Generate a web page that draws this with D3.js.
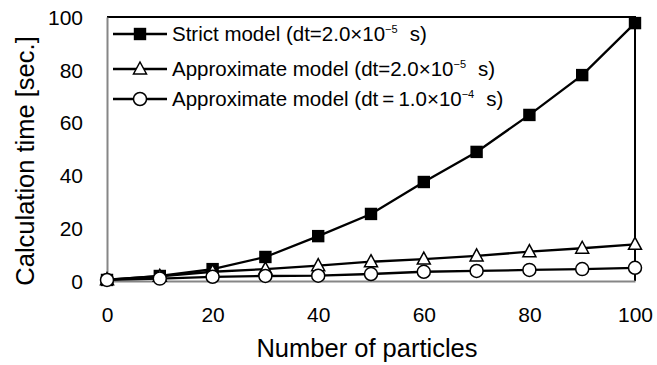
<!DOCTYPE html>
<html>
<head>
<meta charset="utf-8">
<script src="https://cdn.jsdelivr.net/npm/d3@7"></script>
<style>
  body { margin: 0; background: #fff; }
  text { font-family: Arial, "Liberation Sans", sans-serif; fill: #000; }
</style>
</head>
<body>
<div id="chart"></div>
<script>
// data
var particles = [0, 10, 20, 30, 40, 50, 60, 70, 80, 90, 100];
var strictModel = [0.4, 1.9, 4.5, 9.1, 17.0, 25.4, 37.5, 48.9, 62.9, 78.0, 97.7];
var approxFine = [0.5, 1.8, 3.5, 4.5, 5.8, 7.3, 8.3, 9.5, 11.1, 12.4, 13.9];
var approxCoarse = [0.4, 0.9, 1.6, 1.9, 2.0, 2.65, 3.5, 3.8, 4.2, 4.5, 5.0];
var xTicks = [0, 20, 40, 60, 80, 100];
var yTicks = [0, 20, 40, 60, 80, 100];
var seriesNames = ["Strict model (dt=2.0×10", "Approximate model (dt=2.0×10", "Approximate model (dt\u2009=\u20091.0×10"];
var seriesExp = ["−5", "−5", "−4"];

var svgWidth = 657;
var svgHeight = 365;

var svg = d3.select("#chart")
  .append("svg")
  .attr("width", svgWidth)
  .attr("height", svgHeight);

var x = d3.scaleLinear().domain([0, 100]).range([107, 635]);
var y = d3.scaleLinear().domain([0, 100]).range([281, 17]);

// plot frame: black top/right, grey axes left/bottom
svg.append("path")
  .attr("d", `M${x(0)},${y(100)}H${x(100)}V${y(0)}`)
  .attr("fill", "none")
  .attr("stroke", "#000")
  .attr("stroke-width", 2);

var yAxis = svg.append("g")
  .attr("transform", `translate(${x(0)},0)`)
  .call(d3.axisLeft(y).tickValues(yTicks).tickSize(0).tickPadding(24));
yAxis.select(".domain").attr("stroke", "#868686").attr("stroke-width", 2);
yAxis.selectAll("text").style("font-size", "21px").attr("dy", "0.35em");

var xAxis = svg.append("g")
  .attr("transform", `translate(0,${y(0)})`)
  .call(d3.axisBottom(x).tickValues(xTicks).tickSize(0).tickPadding(26));
xAxis.select(".domain").attr("stroke", "#868686").attr("stroke-width", 2);
xAxis.selectAll("text").style("font-size", "21px").attr("dy", "0.35em");
xAxis.selectAll("text").attr("y", 34);

// axis titles
svg.append("text")
  .attr("x", 367)
  .attr("y", 357)
  .attr("text-anchor", "middle")
  .style("font-size", "25.5px")
  .text("Number of particles");

svg.append("text")
  .attr("transform", "rotate(-90)")
  .attr("x", -161)
  .attr("y", 34)
  .attr("text-anchor", "middle")
  .style("font-size", "25.5px")
  .text("Calculation time [sec.]");

var line = d3.line()
  .x(function(d, i) { return x(particles[i]); })
  .y(function(d) { return y(d); });

var allSeries = [strictModel, approxFine, approxCoarse];
var markers = ["square", "triangle", "circle"];

function drawMarker(g, kind, cx, cy) {
  if (kind === "square") {
    g.append("rect")
      .attr("x", cx - 6.2).attr("y", cy - 6.2)
      .attr("width", 12.4).attr("height", 12.4)
      .attr("fill", "#000");
  } else if (kind === "triangle") {
    g.append("path")
      .attr("d", `M${cx},${cy - 7}L${cx + 6.5},${cy + 5}L${cx - 6.5},${cy + 5}Z`)
      .attr("fill", "#fff")
      .attr("stroke", "#000")
      .attr("stroke-width", 1.5);
  } else {
    g.append("circle")
      .attr("cx", cx).attr("cy", cy).attr("r", 6.5)
      .attr("fill", "#fff")
      .attr("stroke", "#000")
      .attr("stroke-width", 1.5);
  }
}

allSeries.forEach(function(values, s) {
  var g = svg.append("g");
  g.append("path")
    .datum(values)
    .attr("d", line)
    .attr("fill", "none")
    .attr("stroke", "#000")
    .attr("stroke-width", 2.3);
  values.forEach(function(v, i) {
    drawMarker(g, markers[s], x(particles[i]), y(v));
  });
});

// legend
var legendY = [34, 69, 99];
var legend = svg.append("g");
seriesNames.forEach(function(name, s) {
  var ly = legendY[s];
  legend.append("line")
    .attr("x1", 113).attr("x2", 167)
    .attr("y1", ly).attr("y2", ly)
    .attr("stroke", "#000")
    .attr("stroke-width", 2.3);
  drawMarker(legend, markers[s], 140, ly);
  var t = legend.append("text")
    .attr("x", 172)
    .attr("y", ly + 7)
    .style("font-size", "20.5px");
  t.append("tspan").text(name);
  t.append("tspan").attr("dy", -8).style("font-size", "11px").text(seriesExp[s]);
  t.append("tspan").attr("dy", 8).attr("dx", 12).text("s)");
});
</script>
</body>
</html>
